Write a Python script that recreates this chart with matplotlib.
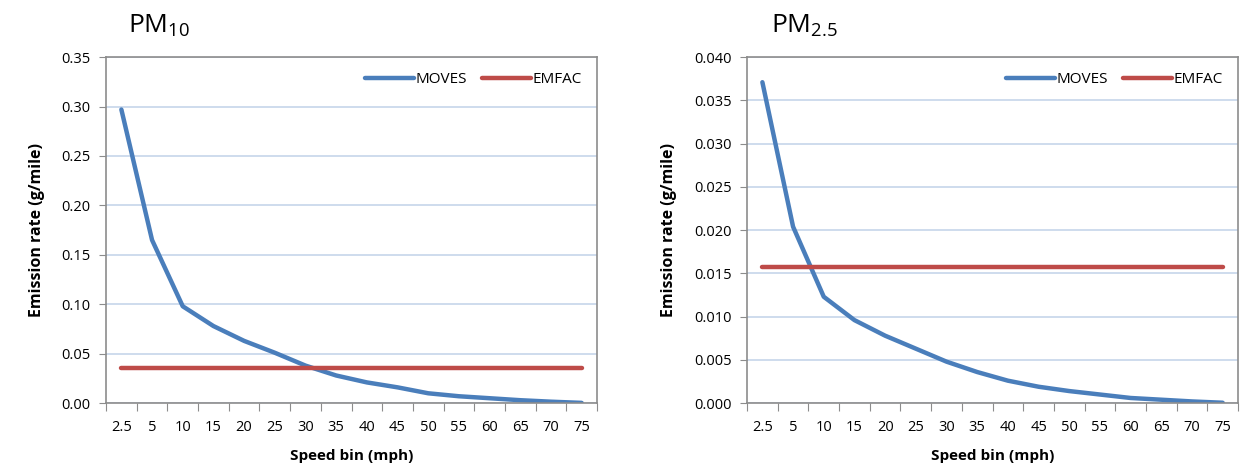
import matplotlib
matplotlib.use('Agg')
from matplotlib import pyplot as plt

speed_bins = ['2.5', '5', '10', '15', '20', '25', '30', '35', '40', '45', '50', '55', '60', '65', '70', '75']

pm10_moves = [0.297, 0.165, 0.098, 0.078, 0.063, 0.051, 0.038, 0.028, 0.021, 0.016,
              0.010, 0.007, 0.005, 0.003, 0.0015, 0.0003]
pm10_emfac = 0.036

pm25_moves = [0.0371, 0.0204, 0.0123, 0.0096, 0.0078, 0.0063, 0.0048, 0.0036, 0.0026, 0.0019,
              0.0014, 0.0010, 0.0006, 0.0004, 0.0002, 0.00005]
pm25_emfac = 0.0157

plt.rcParams['font.family'] = ['Open Sans', 'DejaVu Sans']

blue = '#4a7ebb'
red = '#be4b48'
grey = '#8c8c8c'

fig = plt.figure(figsize=(12.43, 4.76), dpi=100)


def draw_panel(rect, moves, emfac, ymax, ystep, fmt, title, title_x):
    ax = fig.add_axes(rect)
    x = list(range(len(speed_bins)))
    ax.plot(x, moves, color=blue, lw=3.2, solid_capstyle='round', label='MOVES')
    ax.plot(x, [emfac] * len(x), color=red, lw=3.2, solid_capstyle='round', label='EMFAC')

    ax.set_xlim(-0.5, len(x) - 0.5)
    ax.set_ylim(0, ymax)
    n = int(round(ymax / ystep))
    yt = [i * ystep for i in range(n + 1)]
    ax.set_yticks(yt)
    ax.set_yticklabels([fmt.format(v) for v in yt], fontsize=10.5)
    ax.yaxis.grid(True, color='#c6d5ea', lw=1.2)
    ax.set_axisbelow(True)

    # category axis: ticks on boundaries, labels at centers
    ax.set_xticks([i - 0.5 for i in range(len(x) + 1)])
    ax.set_xticklabels([])
    ax.set_xticks(x, minor=True)
    ax.set_xticklabels(speed_bins, minor=True, fontsize=10.5)
    ax.tick_params(axis='x', which='major', length=6, color=grey, direction='out')
    ax.tick_params(axis='x', which='minor', length=0, pad=12)
    ax.tick_params(axis='y', length=5, color=grey, pad=6)

    for s in ax.spines.values():
        s.set_color(grey)
        s.set_linewidth(1.2)

    ax.set_xlabel('Speed bin (mph)', fontsize=11, fontweight='bold', labelpad=10)
    ax.set_ylabel('Emission rate (g/mile)', fontsize=11.5, fontweight='bold', labelpad=12)
    ax.legend(loc='upper right', ncol=2, frameon=False, fontsize=11, handlelength=3.2,
              handletextpad=0.1, columnspacing=1.0, borderaxespad=0.6)
    fig.text(title_x, 0.945, title, fontsize=19, va='center')
    return ax


draw_panel([0.0853, 0.153, 0.395, 0.727], pm10_moves, pm10_emfac, 0.35, 0.05, '{:.2f}',
           r'$\mathregular{PM_{10}}$', 0.103)
draw_panel([0.601, 0.153, 0.395, 0.727], pm25_moves, pm25_emfac, 0.040, 0.005, '{:.3f}',
           r'$\mathregular{PM_{2.5}}$', 0.62)

fig.savefig('out.png', dpi=100)
